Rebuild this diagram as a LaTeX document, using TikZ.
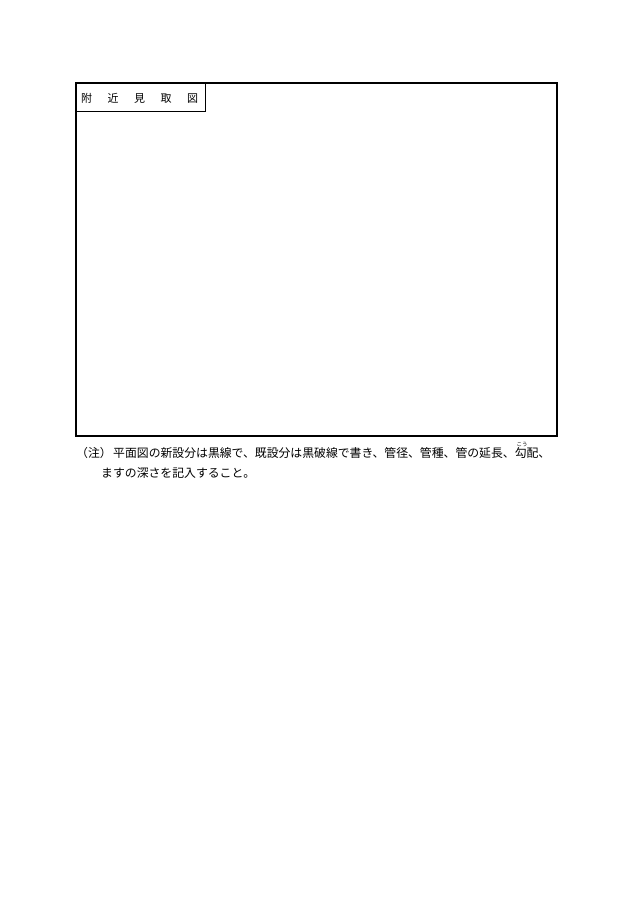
\documentclass[tikz,border=0pt]{standalone}
\usepackage{fontspec}
\newfontfamily\jp{Noto Sans CJK JP}
\begin{document}
\begin{tikzpicture}[x=1pt,y=-1pt,
  txt/.style={inner sep=0pt,anchor=base west,font=\jp\fontsize{11.85}{14}\selectfont},
  frame/.style={draw=black,line width=1.8pt},
  tab/.style={draw=black,line width=0.8pt}]
\useasboundingbox[fill=white] (0,0) rectangle (630,915);
\draw[frame] (76,83) rectangle (557,436);
\draw[tab] (76,83) -- (205,83) -- (205,111.5) -- (76,111.5);
\node[txt,font=\jp\fontsize{11}{13}\selectfont] (title) at (81,102.5) {附\hspace{15.5pt}近\hspace{15.5pt}見\hspace{15.5pt}取\hspace{15.5pt}図};
\node[txt] (note) at (76,457.5) {（注）};
\node[txt] (l1) at (113,457.5) {平面図の新設分は黒線で、既設分は黒破線で書き、管径、管種、管の延長、勾配、};
\node[txt] (l2) at (101,477) {ますの深さを記入すること。};
\node[inner sep=0pt,anchor=base,font=\jp\fontsize{5.5}{6}\selectfont] (ruby) at (522,446) {こう};
\end{tikzpicture}
\end{document}
